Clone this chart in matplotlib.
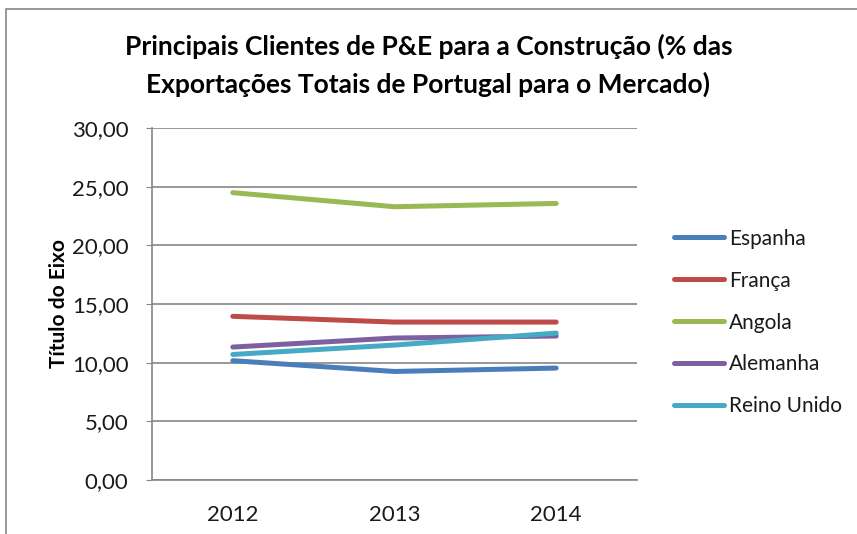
import matplotlib.pyplot as plt
from matplotlib.patches import Rectangle

anos = ["2012", "2013", "2014"]
espanha = [10.17, 9.25, 9.54]
franca = [13.95, 13.46, 13.46]
angola = [24.49, 23.29, 23.57]
alemanha = [11.33, 12.10, 12.27]
reino_unido = [10.70, 11.50, 12.52]

series = [
    ("Espanha", espanha, "#4a7ebb"),
    ("França", franca, "#be4b48"),
    ("Angola", angola, "#98b954"),
    ("Alemanha", alemanha, "#7d60a0"),
    ("Reino Unido", reino_unido, "#46aac5"),
]

plt.rcParams['font.family'] = ['Lato', 'DejaVu Sans']

W, H = 857, 534
fig = plt.figure(figsize=(W / 100, H / 100), dpi=100)
ax = fig.add_axes([152 / W, 1 - 480 / H, (637 - 152) / W, (480 - 128) / H])

x = range(len(anos))
for nome, vals, cor in series:
    ax.plot(x, vals, color=cor, lw=3.6, solid_capstyle='round',
            solid_joinstyle='round', label=nome)

ax.set_xlim(-0.5, 2.5)
ax.set_ylim(0, 30)
ax.set_xticks(list(x))
ax.set_xticklabels(anos)
ax.set_yticks(range(0, 31, 5))
ax.set_yticklabels([f"{v:.2f}".replace(".", ",") for v in range(0, 31, 5)])
ax.yaxis.grid(True, color="#868686", lw=1.2)
ax.set_axisbelow(True)
for s in ["top", "right"]:
    ax.spines[s].set_visible(False)
for s in ["left", "bottom"]:
    ax.spines[s].set_color("#868686")
    ax.spines[s].set_linewidth(1.2)
ax.tick_params(axis='y', length=4, color="#868686", labelsize=16, pad=13,
               labelcolor="#1a1a1a")
ax.tick_params(axis='x', length=0, labelsize=16, pad=18, labelcolor="#1a1a1a")

ax.set_ylabel("Título do Eixo", fontsize=15, fontweight='bold', labelpad=2)

fig.text(0.5, 1 - 65 / H,
         "Principais Clientes de P&E para a Construção (% das\n"
         "Exportações Totais de Portugal para o Mercado)",
         ha='center', va='center', fontsize=19, fontweight='bold',
         linespacing=1.6)

leg = ax.legend(loc='upper left', bbox_to_anchor=(655 / W, 1 - 210 / H),
                bbox_transform=fig.transFigure, frameon=False, fontsize=15,
                handlelength=2.4, handletextpad=0.25, labelspacing=1.05,
                labelcolor="#1a1a1a")

fig.patches.append(Rectangle((6 / W, -0.1), 2, 1.1 - 9 / H,
                             transform=fig.transFigure, fill=False,
                             edgecolor="#868686", lw=1.2))

fig.savefig("out.png", dpi=100)
